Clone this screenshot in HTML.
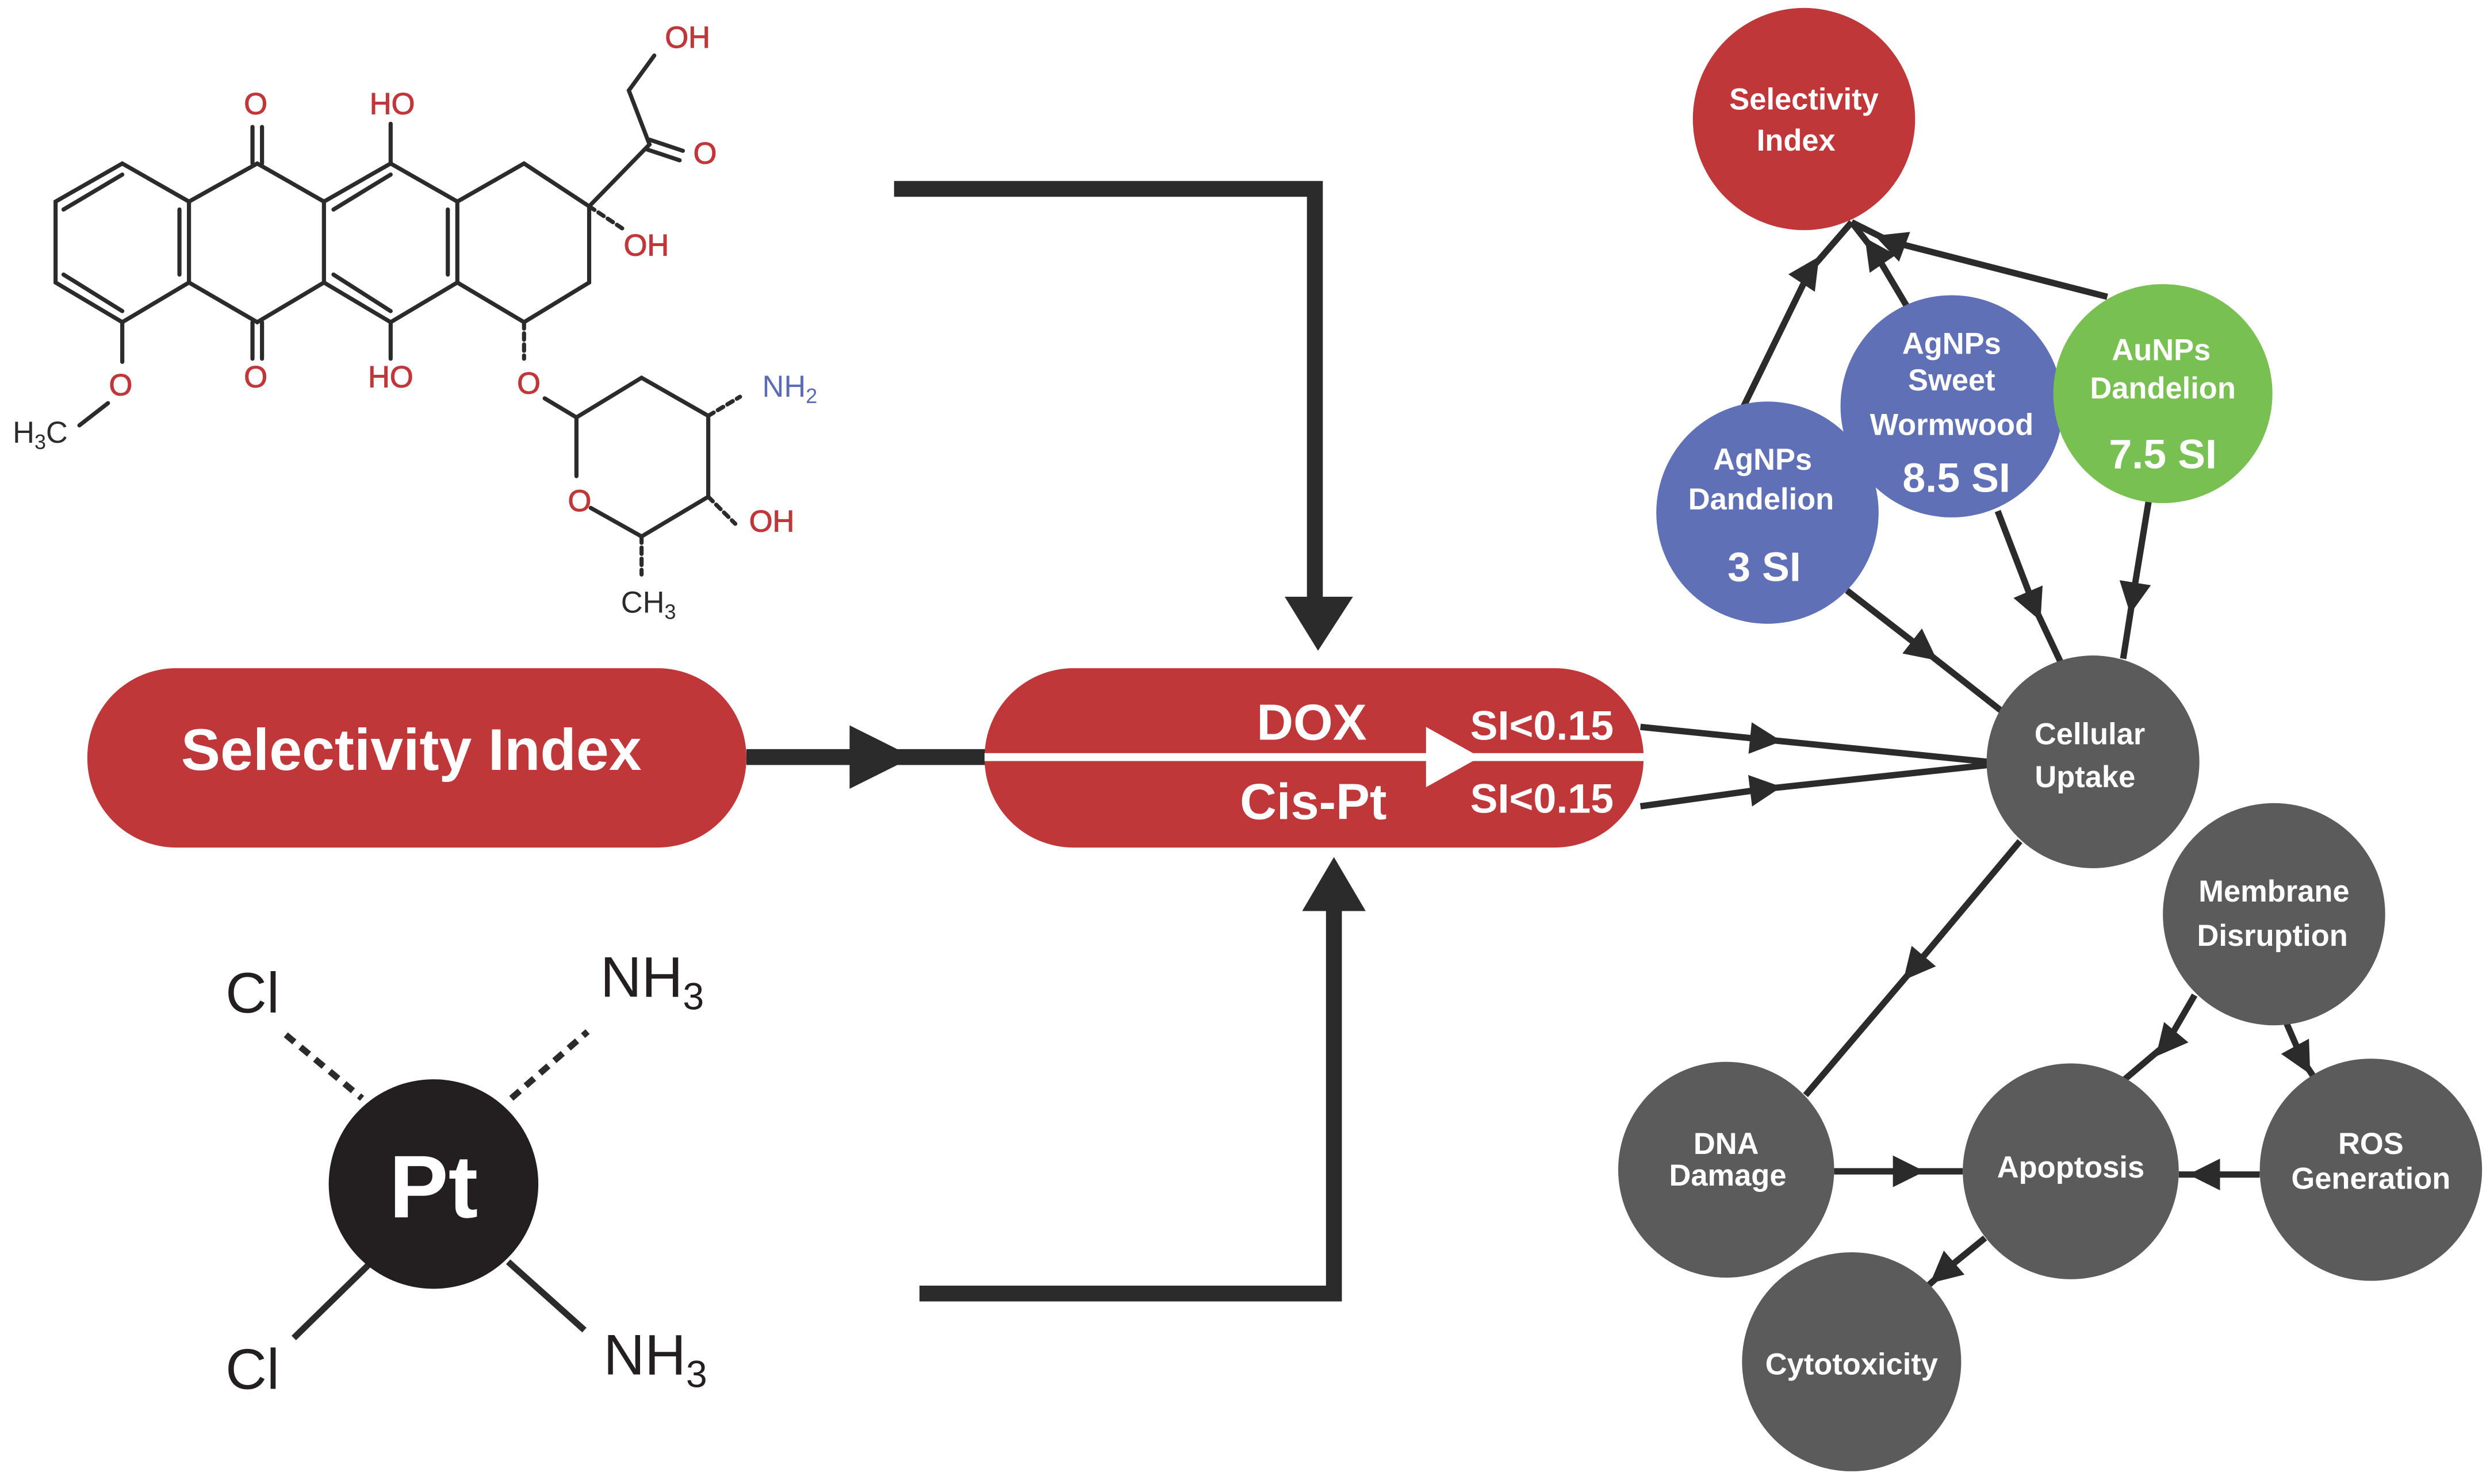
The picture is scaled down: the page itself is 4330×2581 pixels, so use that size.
<!DOCTYPE html>
<html><head><meta charset="utf-8"><style>
html,body{margin:0;padding:0;background:#fff;}
svg{display:block;}
text{font-family:"Liberation Sans",sans-serif;}
</style></head><body>
<svg width="4330" height="2581" viewBox="0 0 1568 935" preserveAspectRatio="none" xmlns="http://www.w3.org/2000/svg">
<defs>
<marker id="a" viewBox="0 0 10 10" refX="5" refY="5" markerWidth="5" markerHeight="5" orient="auto" markerUnits="strokeWidth">
<path d="M0,0 L10,5 L0,10 Z" fill="#2b2b2b"/></marker>
</defs>
<rect width="1568" height="935" fill="#fff"/>

<g stroke="#2b2b2b" stroke-width="2.6" fill="none" stroke-linecap="round">
<path d="M77,103 L35,127 L35,178 L77,203 L119,178 L119,127 Z"/>
<path d="M40,132 L77,110 M40,173 L77,196 M113,132 L113,173"/>
<path d="M119,127 L162,103 L204,127 L204,178 L162,203 L119,178"/>
<path d="M204,127 L246,103 L288,127 L288,178 L246,203 L204,178"/>
<path d="M210,132 L246,110 M210,173 L246,196 M282,132 L282,173"/>
<path d="M288,127 L330,103 L371,130 L371,178 L330,203 L288,178"/>
<path d="M159,103 L159,80 M165,103 L165,80"/>
<path d="M159,203 L159,226 M165,203 L165,226"/>
<path d="M246,103 L246,78 M246,203 L246,226"/>
<path d="M371,130 L409,91 L396,57 L412,35"/>
<path d="M409,88 L430,95 M407,94 L428,101"/>
<path d="M77,203 L77,228 M68,254 L50,268"/>
<path d="M343,251 L363,263 L404,238 L446,262 L446,313 L404,338 L372,320 M363,263 L363,300"/>
<path d="M371,130 L392,144 M330,203 L330,226 M446,262 L466,250 M446,313 L463,330 M404,338 L404,362" stroke-dasharray="4,3"/>
</g>
<g fill="#c0373a" font-size="19" text-anchor="middle" stroke="#c0373a" stroke-width="0.4">
<text x="161" y="72">O</text>
<text x="247" y="72">HO</text>
<text x="433" y="30">OH</text>
<text x="444" y="103">O</text>
<text x="407" y="161">OH</text>
<text x="161" y="244">O</text>
<text x="246" y="244">HO</text>
<text x="76" y="249">O</text>
<text x="333" y="248">O</text>
<text x="365" y="322">O</text>
<text x="486" y="335">OH</text>
</g>
<text x="480" y="250" fill="#5b6bb5" font-size="19">NH<tspan font-size="13" dy="4">2</tspan></text>
<text x="8" y="279" fill="#2b2b2b" font-size="19">H<tspan font-size="13" dy="4">3</tspan><tspan dy="-4">C</tspan></text>
<text x="391" y="386" fill="#2b2b2b" font-size="19">CH<tspan font-size="13" dy="4">3</tspan></text>

<g stroke="#2b2b2b" stroke-width="10" fill="none">
<path d="M563,119 L828,119 L828,382"/>
<path d="M579,815 L840,815 L840,568"/>
<path d="M470,477 L625,477"/>
</g>
<path d="M809,376 L852,376 L830,410 Z" fill="#2b2b2b"/>
<path d="M820,574 L860,574 L840,540 Z" fill="#2b2b2b"/>
<path d="M535,457 L535,497 L575,477 Z" fill="#2b2b2b"/>

<rect x="55" y="421" width="415" height="113" rx="56" fill="#c0373a"/>
<text x="259" y="485" fill="#fff" font-size="37" font-weight="bold" text-anchor="middle">Selectivity Index</text>
<rect x="620" y="421" width="415" height="113" rx="56" fill="#c0373a"/>
<rect x="620" y="474.5" width="415" height="5" fill="#fff"/>
<path d="M898,458 L898,496 L932,477 Z" fill="#fff"/>
<text x="826" y="466" fill="#fff" font-size="32" font-weight="bold" text-anchor="middle">DOX</text>
<text x="827" y="516" fill="#fff" font-size="32" font-weight="bold" text-anchor="middle">Cis-Pt</text>
<text x="971" y="466" fill="#fff" font-size="26" font-weight="bold" text-anchor="middle">SI&lt;0.15</text>
<text x="971" y="512" fill="#fff" font-size="26" font-weight="bold" text-anchor="middle">SI&lt;0.15</text>

<g stroke="#2b2b2b" stroke-width="4">
<path d="M180,652 L228,692 M322,692 L370,650" stroke-dasharray="7,5"/>
<path d="M232,797 L185,843 M320,795 L368,838"/>
</g>
<circle cx="273" cy="746" r="66" fill="#231f20"/>
<text x="273" y="767" fill="#fff" font-size="56" font-weight="bold" text-anchor="middle">Pt</text>
<g fill="#231f20" font-size="36">
<text x="142" y="638">Cl</text>
<text x="378" y="628">NH<tspan font-size="24" dy="8">3</tspan></text>
<text x="142" y="875">Cl</text>
<text x="380" y="866">NH<tspan font-size="24" dy="8">3</tspan></text>
</g>

<g stroke="#2b2b2b" stroke-width="4" fill="none" marker-mid="url(#a)">
<polyline points="1033,458 1112,466 1252,480"/>
<polyline points="1033,508 1112,497 1252,482"/>
<polyline points="1098,256 1140,170 1166,140"/>
<polyline points="1202,195 1180,158 1166,140"/>
<polyline points="1327,187 1190,152 1166,140"/>
<polyline points="1163,372 1212,410 1263,450"/>
<polyline points="1258,322 1281,382 1298,418"/>
<polyline points="1353,316 1343,377 1337,415"/>
<polyline points="1272,530 1205,610 1137,690"/>
<polyline points="1382,627 1364,658 1338,680"/>
<polyline points="1440,645 1450,668 1458,680"/>
<polyline points="1155,738 1202,738 1236,738"/>
<polyline points="1423,740 1388,740 1372,740"/>
<polyline points="1250,780 1223,802 1212,812"/>
</g>

<circle cx="1136" cy="75" r="70" fill="#c0373a"/>
<circle cx="1113" cy="323" r="70" fill="#6070b6"/>
<circle cx="1229" cy="256" r="70" fill="#6070b6"/>
<circle cx="1362" cy="248" r="69" fill="#79c053"/>
<g fill="#5a5b5a">
<circle cx="1318" cy="480" r="67"/>
<circle cx="1432" cy="576" r="70"/>
<circle cx="1087" cy="737" r="68"/>
<circle cx="1304" cy="738" r="68"/>
<circle cx="1493" cy="737" r="70"/>
<circle cx="1166" cy="858" r="69"/>
</g>
<g fill="#fff" font-weight="bold" text-anchor="middle" font-size="19">
<text x="1136" y="69">Selectivity</text>
<text x="1131" y="95">Index</text>
<text x="1110" y="296">AgNPs</text>
<text x="1109" y="321">Dandelion</text>
<text x="1111" y="366" font-size="26">3 SI</text>
<text x="1229" y="223">AgNPs</text>
<text x="1229" y="246">Sweet</text>
<text x="1229" y="274">Wormwood</text>
<text x="1232" y="310" font-size="26">8.5 SI</text>
<text x="1361" y="227">AuNPs</text>
<text x="1362" y="251">Dandelion</text>
<text x="1362" y="295" font-size="26">7.5 SI</text>
<text x="1316" y="469">Cellular</text>
<text x="1313" y="496">Uptake</text>
<text x="1432" y="568">Membrane</text>
<text x="1431" y="596">Disruption</text>
<text x="1087" y="727">DNA</text>
<text x="1088" y="747">Damage</text>
<text x="1304" y="742">Apoptosis</text>
<text x="1493" y="727">ROS</text>
<text x="1493" y="749">Generation</text>
<text x="1166" y="866">Cytotoxicity</text>
</g>
</svg>
</body></html>
